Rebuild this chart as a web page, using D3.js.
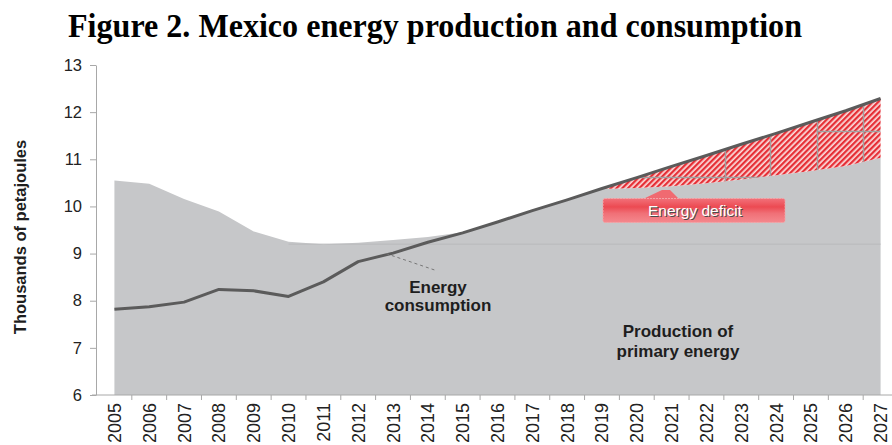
<!DOCTYPE html>
<html>
<head>
<meta charset="utf-8">
<script src="https://cdn.jsdelivr.net/npm/d3@7"></script>
<style>
  body { margin: 0; background: #fff; }
  svg { display: block; font-family: "Liberation Sans", Arial, sans-serif; }
</style>
</head>
<body>
<div id="chart"></div>
<script>
// data (thousands of petajoules)
const years = ["2005", "2006", "2007", "2008", "2009", "2010", "2011", "2012", "2013", "2014", "2015", "2016",
  "2017", "2018", "2019", "2020", "2021", "2022", "2023", "2024", "2025", "2026", "2027"];
const production = [10.55, 10.48, 10.16, 9.89, 9.47, 9.25, 9.20, 9.23, 9.29, 9.35, 9.45, 9.68,
  9.92, 10.15, 10.37, 10.39, 10.43, 10.49, 10.57, 10.66, 10.75, 10.86, 11.03];
const consumption = [7.82, 7.87, 7.97, 8.24, 8.21, 8.09, 8.40, 8.83, 9.01, 9.24, 9.44, 9.67,
  9.91, 10.14, 10.38, 10.61, 10.85, 11.08, 11.32, 11.55, 11.79, 12.03, 12.29];
const yTicks = [6, 7, 8, 9, 10, 11, 12, 13];

// faint grid seen through the hatched deficit (fractional years / values)
const deficitGridYears = [2022.53, 2023.82, 2025.16, 2026.5];
const deficitGridRows = [
  { value: 10.62, from: 2019.4, to: 2023.82 },
  { value: 11.61, from: 2025.16, to: 2027 }
];
const baselineValue = 9.2;

const width = 892, height = 445;

const svg = d3.select("#chart")
  .append("svg")
  .attr("width", width)
  .attr("height", height);

// 比例尺
const x = d3.scaleBand().domain(years).range([97, 898]).padding(0);
const cx = d => x(d) + x.bandwidth() / 2;
const xYear = d3.scaleLinear().domain([2005, 2027]).range([cx("2005"), cx("2027")]);
const y = d3.scaleLinear().domain([6, 13]).range([395, 65]);

const data = years.map((yr, i) => ({ year: yr, p: production[i], c: consumption[i] }));

// 標題
svg.append("text")
  .attr("x", 68)
  .attr("y", 37)
  .attr("textLength", 734)
  .attr("lengthAdjust", "spacingAndGlyphs")
  .style("font-family", "'Liberation Serif', 'Times New Roman', serif")
  .style("font-weight", "bold")
  .style("font-size", "33px")
  .attr("fill", "#000")
  .text("Figure 2. Mexico energy production and consumption");

// hatch pattern
const defs = svg.append("defs");
const pat = defs.append("pattern")
  .attr("id", "hatch")
  .attr("patternUnits", "userSpaceOnUse")
  .attr("width", 4)
  .attr("height", 4)
  .attr("patternTransform", "rotate(45)");
pat.append("rect").attr("width", 4).attr("height", 4).attr("fill", "#fbdede");
pat.append("rect").attr("width", 2.3).attr("height", 4).attr("fill", "#e62f36");

const grad = defs.append("linearGradient")
  .attr("id", "boxGrad")
  .attr("x1", 0).attr("y1", 0).attr("x2", 0).attr("y2", 1);
[["0%", "#f2717a"], ["35%", "#ec4a52"], ["62%", "#f07077"], ["100%", "#f5888d"]].forEach(s => {
  grad.append("stop").attr("offset", s[0]).attr("stop-color", s[1]);
});

// 生產面積
svg.append("path")
  .datum(data)
  .attr("fill", "#c6c7c9")
  .attr("d", d3.area()
    .x(d => cx(d.year))
    .y0(y(6))
    .y1(d => y(d.p)));

// faint line at 9.2
svg.append("line")
  .attr("x1", xYear(2010))
  .attr("x2", xYear(2027))
  .attr("y1", y(baselineValue))
  .attr("y2", y(baselineValue))
  .attr("stroke", "#b8b9bb")
  .attr("stroke-width", 1);

// 能源赤字
const deficitData = data.filter(d => +d.year >= 2018);
const deficitArea = d3.area()
  .x(d => cx(d.year))
  .y0(d => y(d.p))
  .y1(d => y(Math.max(d.c, d.p)));

defs.append("clipPath").attr("id", "deficitClip")
  .append("path").datum(deficitData).attr("d", deficitArea);

svg.append("path")
  .datum(deficitData)
  .attr("fill", "url(#hatch)")
  .attr("d", deficitArea);

const gridG = svg.append("g").attr("clip-path", "url(#deficitClip)")
  .attr("stroke", "#a0a0a0").attr("stroke-width", 1.5);
gridG.selectAll("line.v")
  .data(deficitGridYears)
  .join("line")
  .attr("class", "v")
  .attr("x1", d => Math.round(xYear(d)) + 0.5).attr("x2", d => Math.round(xYear(d)) + 0.5)
  .attr("y1", y(13)).attr("y2", y(6));
gridG.selectAll("line.h")
  .data(deficitGridRows)
  .join("line")
  .attr("class", "h")
  .attr("x1", d => xYear(d.from)).attr("x2", d => xYear(d.to))
  .attr("y1", d => Math.round(y(d.value)) + 0.5).attr("y2", d => Math.round(y(d.value)) + 0.5);

// 消費線
svg.append("path")
  .datum(data)
  .attr("fill", "none")
  .attr("stroke", "#5b5b5b")
  .attr("stroke-width", 3)
  .attr("stroke-linejoin", "round")
  .attr("d", d3.line().x(d => cx(d.year)).y(d => y(d.c)));

// 標註
svg.append("line")
  .attr("x1", xYear(2012.8)).attr("y1", y(9.0))
  .attr("x2", xYear(2014.2)).attr("y2", y(8.65))
  .attr("stroke", "#777")
  .attr("stroke-width", 1)
  .attr("stroke-dasharray", "3,3");

const consLabel = svg.append("text")
  .attr("text-anchor", "middle")
  .style("font-size", "17px")
  .style("font-weight", "bold")
  .attr("fill", "#1e1e1e");
consLabel.append("tspan").attr("x", 438).attr("y", 293).text("Energy");
consLabel.append("tspan").attr("x", 438).attr("y", 311).text("consumption");

const prodLabel = svg.append("text")
  .attr("text-anchor", "middle")
  .style("font-size", "17px")
  .style("font-weight", "bold")
  .attr("fill", "#1e1e1e");
prodLabel.append("tspan").attr("x", 678).attr("y", 337).text("Production of");
prodLabel.append("tspan").attr("x", 678).attr("y", 357).text("primary energy");

// Energy deficit callout
const box = svg.append("g");
box.append("path")
  .attr("d", "M643,199 L662,190 L670,190 L679,199 Z")
  .attr("fill", "#f06a71");
box.append("rect")
  .attr("x", 603).attr("y", 198.5)
  .attr("width", 182).attr("height", 24)
  .attr("rx", 2)
  .attr("fill", "url(#boxGrad)")
  .attr("stroke", "#f4a3a6")
  .attr("stroke-width", 1)
  .attr("stroke-dasharray", "2,1");
box.append("text")
  .attr("x", 695).attr("y", 215.5)
  .attr("text-anchor", "middle")
  .style("font-size", "15.5px")
  .attr("fill", "#4a4a4a")
  .attr("transform", "translate(1,1)")
  .text("Energy deficit");
box.append("text")
  .attr("x", 695).attr("y", 215.5)
  .attr("text-anchor", "middle")
  .style("font-size", "15.5px")
  .attr("fill", "#fff")
  .text("Energy deficit");

// Y 軸
const yAxis = svg.append("g")
  .attr("transform", "translate(96,0)")
  .call(d3.axisLeft(y).tickValues(yTicks).tickFormat(d3.format("d"))
    .tickSize(6).tickSizeOuter(0).tickPadding(8));
yAxis.select(".domain").attr("stroke", "#a8a8a8");
yAxis.selectAll(".tick line").attr("stroke", "#a8a8a8");
yAxis.selectAll(".tick text")
  .style("font-size", "16.5px")
  .attr("fill", "#222");

// X 軸
const xAxis = svg.append("g")
  .attr("transform", "translate(0,395)")
  .call(d3.axisBottom(x).tickSize(0).tickSizeOuter(0));
xAxis.select(".domain").attr("stroke", "#a8a8a8").attr("d", "M92,0H898");
xAxis.selectAll(".tick text")
  .attr("transform", "rotate(-90)")
  .attr("x", -8)
  .attr("y", 0)
  .attr("dy", "0.36em")
  .attr("text-anchor", "end")
  .style("font-size", "18px")
  .attr("fill", "#222");
xAxis.selectAll("line.bound")
  .data(years.slice(1).map(d => x(d)).concat([x.range()[1]]))
  .join("line")
  .attr("class", "bound")
  .attr("x1", d => d).attr("x2", d => d)
  .attr("y1", 0).attr("y2", 5)
  .attr("stroke", "#a8a8a8");

// Y 軸標題
svg.append("text")
  .attr("transform", "translate(26,237) rotate(-90)")
  .attr("text-anchor", "middle")
  .style("font-size", "16.5px")
  .style("font-weight", "bold")
  .attr("fill", "#1e1e1e")
  .text("Thousands of petajoules");
</script>
</body>
</html>
